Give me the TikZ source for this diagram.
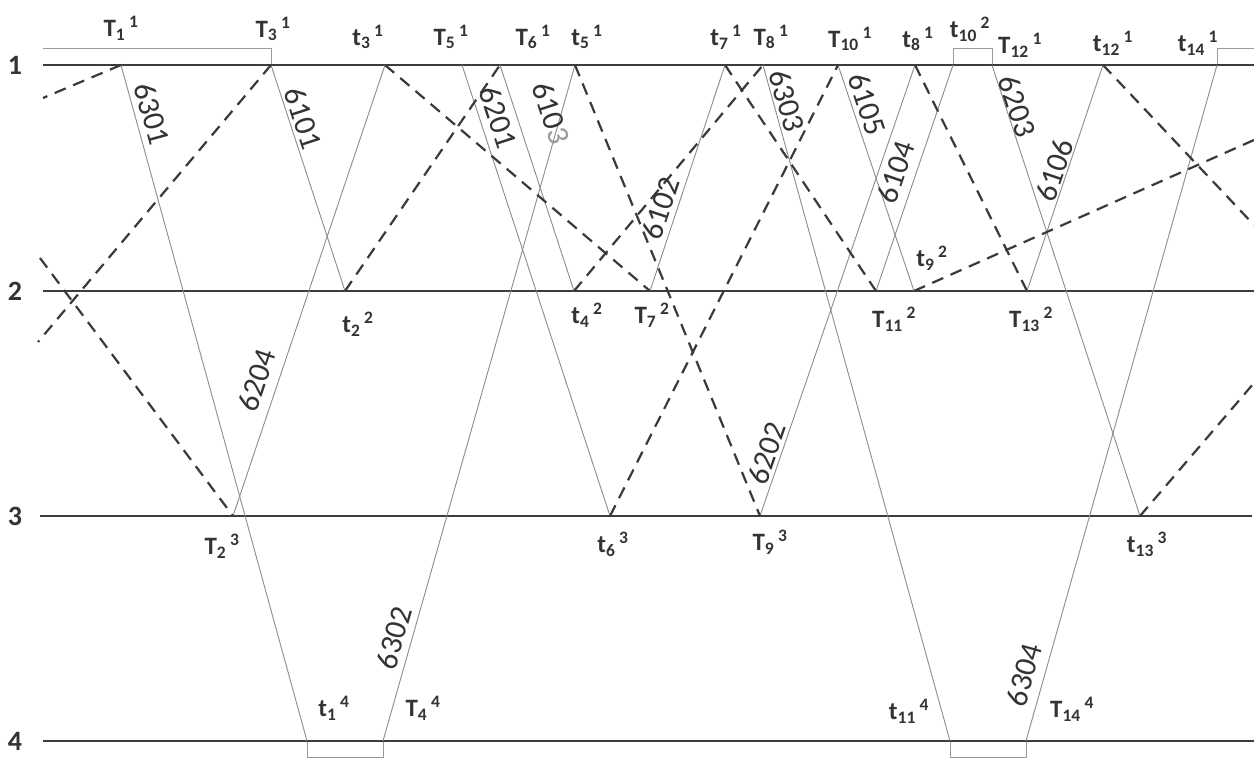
\documentclass[tikz,border=0pt]{standalone}
\usepackage{fontspec}
\setmainfont{Carlito}
\definecolor{stcol}{HTML}{3C3C3C}
\definecolor{trcol}{HTML}{8C8C8C}
\definecolor{dacol}{HTML}{3A3A3A}
\definecolor{brcol}{HTML}{9A9A9A}
\definecolor{txcol}{HTML}{333333}
\definecolor{fadecol}{HTML}{9A9A9A}
\newcommand{\ev}[3]{#1\textsubscript{#2}\hspace{0.15em}\textsuperscript{#3}}
\begin{document}
\begin{tikzpicture}[x=1pt,y=-1pt,
  station/.style={draw=stcol, line width=1.8pt},
  train/.style={draw=trcol, line width=0.9pt},
  dashtrain/.style={draw=dacol, line width=2.2pt, dash pattern=on 12pt off 8pt},
  brk/.style={draw=brcol, line width=0.9pt},
  evlab/.style={text=txcol, font=\bfseries\fontsize{25}{28}\selectfont, inner sep=0pt},
  numlab/.style={text=txcol, font=\fontsize{31}{34}\selectfont, inner sep=0pt},
  stlab/.style={text=txcol, font=\bfseries\fontsize{28}{30}\selectfont, inner sep=0pt}]
\useasboundingbox (0,0) rectangle (1254,759);
\fill[white] (0,0) rectangle (1254,759);

% station line ends
\coordinate (L1a) at (43,65);  \coordinate (L1b) at (1254,65);
\coordinate (L2a) at (43,291); \coordinate (L2b) at (1254,291);
\coordinate (L3a) at (40,516); \coordinate (L3b) at (1252,516);
\coordinate (L4a) at (43,741); \coordinate (L4b) at (1254,741);

% events station 1
\coordinate (T1) at (121,65);
\coordinate (T3) at (271,65);
\coordinate (t3) at (385,65);
\coordinate (T5) at (462,65);
\coordinate (T6) at (500,65);
\coordinate (t5) at (575,65);
\coordinate (t7) at (725,65);
\coordinate (T8) at (763,65);
\coordinate (T10) at (838,65);
\coordinate (t8) at (915,65);
\coordinate (t10) at (953,65);
\coordinate (T12) at (992,65);
\coordinate (t12) at (1103,65);
\coordinate (t14) at (1217,65);
% station 2
\coordinate (t2) at (345,291);
\coordinate (t4) at (574,291);
\coordinate (T7) at (650,291);
\coordinate (T11) at (876,291);
\coordinate (t9) at (914,291);
\coordinate (T13) at (1027,291);
% station 3
\coordinate (T2) at (233,516);
\coordinate (t6) at (610,516);
\coordinate (T9) at (760,516);
\coordinate (t13) at (1140,516);
% station 4
\coordinate (t1) at (307,741);
\coordinate (T4) at (383,741);
\coordinate (t11) at (950,741);
\coordinate (T14) at (1026,741);
% free ends
\coordinate (dA) at (43,98);
\coordinate (dB) at (38,342);
\coordinate (dC) at (40,258);
\coordinate (dD) at (1254,140);
\coordinate (dE) at (1254,225);
\coordinate (dF) at (1254,383);
% bracket corners
\coordinate (b1) at (43,48);   \coordinate (b2) at (271,48);
\coordinate (b3) at (953,48);  \coordinate (b4) at (992,48);
\coordinate (b5) at (1217,48); \coordinate (b6) at (1254,48);
\coordinate (b7) at (307,757); \coordinate (b8) at (383,757);
\coordinate (b9) at (950,757); \coordinate (b10) at (1026,757);

% brackets
\draw[brk] (b1) -- (b2) -- (T3);
\draw[brk] (t10) -- (b3) -- (b4) -- (T12);
\draw[brk] (t14) -- (b5) -- (b6);
\draw[brk] (t1) -- (b7) -- (b8) -- (T4);
\draw[brk] (t11) -- (b9) -- (b10) -- (T14);

% station lines
\draw[station] (L1a) -- (L1b);
\draw[station] (L2a) -- (L2b);
\draw[station] (L3a) -- (L3b);
\draw[station] (L4a) -- (L4b);

% solid train lines
\draw[train] (T1) -- (t1);
\draw[train] (T3) -- (t2);
\draw[train] (T2) -- (t3);
\draw[train] (T5) -- (t6);
\draw[train] (T6) -- (t4);
\draw[train] (T4) -- (t5);
\draw[train] (T7) -- (t7);
\draw[train] (T8) -- (t11);
\draw[train] (T10) -- (t9);
\draw[train] (T9) -- (t8);
\draw[train] (T11) -- (t10);
\draw[train] (T12) -- (t13);
\draw[train] (T13) -- (t12);
\draw[train] (T14) -- (t14);

% dashed train lines
\draw[dashtrain] (T1) -- (dA);
\draw[dashtrain] (T3) -- (dB);
\draw[dashtrain] (dC) -- (T2);
\draw[dashtrain] (t2) -- (T6);
\draw[dashtrain] (t3) -- (T7);
\draw[dashtrain] (t4) -- (T8);
\draw[dashtrain] (t5) -- (T9);
\draw[dashtrain] (t6) -- (T10);
\draw[dashtrain] (t7) -- (T11);
\draw[dashtrain] (t8) -- (T13);
\draw[dashtrain] (t9) -- (dD);
\draw[dashtrain] (t12) -- (dE);
\draw[dashtrain] (t13) -- (dF);

% station labels
\node[stlab] (s1) at (15,65) {1};
\node[stlab] (s2) at (15,291) {2};
\node[stlab] (s3) at (15,516) {3};
\node[stlab] (s4) at (15,741) {4};

% event labels
\node[evlab] (lT1) at (121,28) {\ev{T}{1}{1}};
\node[evlab] (lT3) at (273,29) {\ev{T}{3}{1}};
\node[evlab] (lt3) at (368,37) {\ev{t}{3}{1}};
\node[evlab] (lT5) at (451,37) {\ev{T}{5}{1}};
\node[evlab] (lT6) at (533,37) {\ev{T}{6}{1}};
\node[evlab] (lt5) at (587,37) {\ev{t}{5}{1}};
\node[evlab] (lt7) at (726,37) {\ev{t}{7}{1}};
\node[evlab] (lT8) at (771,37) {\ev{T}{8}{1}};
\node[evlab] (lT10) at (850,39) {\ev{T}{10}{1}};
\node[evlab] (lt8) at (918,39) {\ev{t}{8}{1}};
\node[evlab] (lt10) at (970,29) {\ev{t}{10}{2}};
\node[evlab] (lT12) at (1020,45) {\ev{T}{12}{1}};
\node[evlab] (lt12) at (1113,43) {\ev{t}{12}{1}};
\node[evlab] (lt14) at (1198,43) {\ev{t}{14}{1}};
\node[evlab] (lt2) at (358,324) {\ev{t}{2}{2}};
\node[evlab] (lt4) at (587,315) {\ev{t}{4}{2}};
\node[evlab] (lT7) at (652,315) {\ev{T}{7}{2}};
\node[evlab] (lT11) at (894,319) {\ev{T}{11}{2}};
\node[evlab] (lt9) at (932,258) {\ev{t}{9}{2}};
\node[evlab] (lT13) at (1031,319) {\ev{T}{13}{2}};
\node[evlab] (lT2) at (222,546) {\ev{T}{2}{3}};
\node[evlab] (lt6) at (613,544) {\ev{t}{6}{3}};
\node[evlab] (lT9) at (770,542) {\ev{T}{9}{3}};
\node[evlab] (lt13) at (1147,544) {\ev{t}{13}{3}};
\node[evlab] (lt1) at (334,708) {\ev{t}{1}{4}};
\node[evlab] (lT4) at (423,708) {\ev{T}{4}{4}};
\node[evlab] (lt11) at (909,711) {\ev{t}{11}{4}};
\node[evlab] (lT14) at (1072,709) {\ev{T}{14}{4}};

% train numbers
\node[numlab, rotate=-74.6] (n6301) at (152,114) {6301};
\node[numlab, rotate=-71.9] (n6101) at (303,118) {6101};
\node[numlab, rotate=-71.8] (n6201) at (498,117) {6201};
\node[numlab, rotate=-71.9] (n6103) at (551,113) {610\textcolor{fadecol}{3}};
\node[numlab, rotate=-74.5] (n6303) at (787,101) {6303};
\node[numlab, rotate=-71.4] (n6105) at (867,104) {6105};
\node[numlab, rotate=-71.8] (n6203) at (1017,106) {6203};
\node[numlab, rotate=71.4] (n6204) at (257,380) {6204};
\node[numlab, rotate=71.6] (n6102) at (661,208) {6102};
\node[numlab, rotate=71.2] (n6104) at (896,172) {6104};
\node[numlab, rotate=71.4] (n6106) at (1055,170) {6106};
\node[numlab, rotate=71.0] (n6202) at (767,453) {6202};
\node[numlab, rotate=74.1] (n6302) at (394,638) {6302};
\node[numlab, rotate=74.2] (n6304) at (1024,675) {6304};
\end{tikzpicture}
\end{document}
